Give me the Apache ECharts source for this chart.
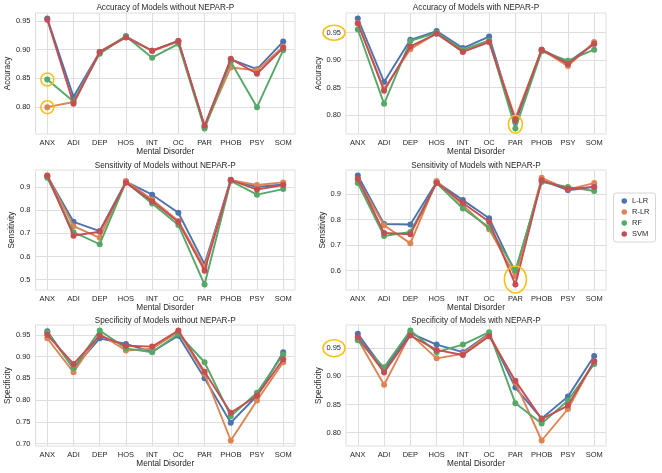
<!DOCTYPE html>
<html><head><meta charset="utf-8">
<script src="https://cdn.jsdelivr.net/npm/echarts@6/dist/echarts.min.js"></script>
<style>html,body{margin:0;padding:0;background:#fff}#c{width:662px;height:473px}</style>
</head><body><div id="c"></div>
<script>
const categories = ['ANX','ADI','DEP','HOS','INT','OC','PAR','PHOB','PSY','SOM'];
const models = ['L-LR','R-LR','RF','SVM'];
const colors = ['#4C72B0','#DD8452','#55A868','#C44E52'];

const accWithout_LLR = [0.954,0.818,0.896,0.923,0.898,0.915,0.766,0.883,0.866,0.914];
const accWithout_RLR = [0.800,0.809,0.896,0.922,0.898,0.914,0.766,0.869,0.864,0.905];
const accWithout_RF  = [0.848,0.810,0.893,0.923,0.886,0.910,0.763,0.879,0.800,0.899];
const accWithout_SVM = [0.952,0.806,0.896,0.921,0.898,0.915,0.768,0.884,0.858,0.903];

const accWith_LLR = [0.976,0.860,0.937,0.953,0.922,0.943,0.786,0.919,0.896,0.930];
const accWith_RLR = [0.968,0.847,0.920,0.949,0.916,0.933,0.794,0.919,0.889,0.933];
const accWith_RF  = [0.956,0.820,0.935,0.950,0.919,0.936,0.775,0.916,0.899,0.919];
const accWith_SVM = [0.967,0.844,0.925,0.948,0.915,0.933,0.790,0.919,0.893,0.930];

const senWithout_LLR = [0.948,0.750,0.710,0.923,0.867,0.789,0.567,0.931,0.900,0.911];
const senWithout_RLR = [0.947,0.731,0.681,0.926,0.846,0.753,0.554,0.930,0.909,0.920];
const senWithout_RF  = [0.940,0.705,0.653,0.921,0.829,0.736,0.479,0.926,0.867,0.891];
const senWithout_SVM = [0.950,0.690,0.707,0.919,0.839,0.749,0.539,0.930,0.889,0.909];

const senWith_LLR = [0.974,0.783,0.781,0.948,0.877,0.806,0.591,0.955,0.916,0.929];
const senWith_RLR = [0.957,0.778,0.707,0.952,0.857,0.762,0.578,0.965,0.919,0.944];
const senWith_RF  = [0.944,0.736,0.752,0.944,0.844,0.770,0.601,0.948,0.929,0.913];
const senWith_SVM = [0.961,0.748,0.743,0.945,0.866,0.792,0.545,0.955,0.921,0.929];

const speWithout_LLR = [0.958,0.873,0.942,0.929,0.911,0.948,0.850,0.748,0.810,0.910];
const speWithout_RLR = [0.942,0.864,0.952,0.914,0.918,0.957,0.860,0.707,0.799,0.887];
const speWithout_RF  = [0.956,0.873,0.960,0.919,0.910,0.952,0.887,0.763,0.817,0.905];
const speWithout_SVM = [0.950,0.883,0.948,0.925,0.923,0.960,0.865,0.771,0.810,0.894];

const speWith_LLR = [0.9756,0.912,0.977,0.9565,0.943,0.976,0.880,0.825,0.864,0.936];
const speWith_RLR = [0.966,0.885,0.975,0.932,0.940,0.975,0.889,0.786,0.842,0.927];
const speWith_RF  = [0.964,0.916,0.9815,0.943,0.9565,0.9786,0.852,0.816,0.857,0.922];
const speWith_SVM = [0.970,0.907,0.9726,0.947,0.938,0.9714,0.892,0.824,0.848,0.927];

const titles = ['Accuracy of Models without NEPAR-P','Accuracy of Models with NEPAR-P',
  'Sensitivity of Models without NEPAR-P','Sensitivity of Models with NEPAR-P',
  'Specificity of Models without NEPAR-P','Specificity of Models with NEPAR-P'];
const yNames = ['Accuracy','Accuracy','Sensitivity','Sensitivity','Specificity','Specificity'];
const yTicks0 = [0.80,0.85,0.90,0.95];
const yTicks1 = [0.80,0.85,0.90,0.95];
const yTicks2 = [0.5,0.6,0.7,0.8,0.9];
const yTicks3 = [0.6,0.7,0.8,0.9];
const yTicks4 = [0.70,0.75,0.80,0.85,0.90,0.95];
const yTicks5 = [0.80,0.85,0.90,0.95];

const panels = [
  {series:[accWithout_LLR,accWithout_RLR,accWithout_RF,accWithout_SVM], ticks:yTicks0, dec:2},
  {series:[accWith_LLR,accWith_RLR,accWith_RF,accWith_SVM], ticks:yTicks1, dec:2},
  {series:[senWithout_LLR,senWithout_RLR,senWithout_RF,senWithout_SVM], ticks:yTicks2, dec:1},
  {series:[senWith_LLR,senWith_RLR,senWith_RF,senWith_SVM], ticks:yTicks3, dec:1},
  {series:[speWithout_LLR,speWithout_RLR,speWithout_RF,speWithout_SVM], ticks:yTicks4, dec:2},
  {series:[speWith_LLR,speWith_RLR,speWith_RF,speWith_SVM], ticks:yTicks5, dec:2}
];

const gridPos = [
  {left:35.5, top:13, width:259.5, height:121},
  {left:346, top:13, width:260, height:121},
  {left:35.5, top:170, width:259.5, height:120},
  {left:346, top:170, width:260, height:120},
  {left:35.5, top:325, width:259.5, height:121},
  {left:346, top:325, width:260, height:121}
];
const titleTops = [4, 4, 161.5, 161.5, 317, 317];
const yNameGaps = [24,23,20,19,24,23];

const FONT = '"Liberation Sans", Arial, sans-serif';
const TXT = '#262626';
const GRIDC = '#dedede';

const grid=[], xAxis=[], yAxis=[], series=[], title=[];
panels.forEach((p,i)=>{
  const all = [].concat(...p.series);
  const mn = Math.min(...all), mx = Math.max(...all), r = mx-mn;
  const g = gridPos[i];
  grid.push(Object.assign({show:true, borderColor:GRIDC, borderWidth:1, containLabel:false}, g));
  title.push({text:titles[i], left:g.left+g.width/2, top:titleTops[i], textAlign:'center', padding:0,
    textStyle:{fontFamily:FONT, fontSize:8.2, fontWeight:'normal', color:TXT}});
  xAxis.push({type:'value', gridIndex:i, min:-0.45, max:9.45,
    name:'Mental Disorder', nameLocation:'middle', nameGap:14,
    nameTextStyle:{fontFamily:FONT, fontSize:8.2, color:TXT},
    axisLine:{show:false}, axisTick:{show:false, customValues:[0,1,2,3,4,5,6,7,8,9]},
    axisLabel:{customValues:[0,1,2,3,4,5,6,7,8,9], formatter:v=>categories[Math.round(v)],
      fontFamily:FONT, fontSize:7.5, color:TXT, margin:5},
    splitLine:{show:true, lineStyle:{color:GRIDC, width:1}}});
  yAxis.push({type:'value', gridIndex:i, min:mn-0.05*r, max:mx+0.05*r,
    name:yNames[i], nameLocation:'middle', nameGap:yNameGaps[i],
    nameTextStyle:{fontFamily:FONT, fontSize:8.2, color:TXT},
    axisLine:{show:false}, axisTick:{show:false, customValues:p.ticks},
    axisLabel:{customValues:p.ticks, formatter:v=>v.toFixed(p.dec),
      fontFamily:FONT, fontSize:7.5, color:TXT, margin:5},
    splitLine:{show:true, lineStyle:{color:GRIDC, width:1}}});
  p.series.forEach((arr,k)=>{
    series.push({type:'line', name:models[k], xAxisIndex:i, yAxisIndex:i,
      data:arr.map((v,j)=>[j,v]), symbol:'circle', symbolSize:6,
      lineStyle:{width:1.9, color:colors[k]}, itemStyle:{color:colors[k]},
      emphasis:{disabled:true}, animation:false, z:2+k});
  });
});

const chart = echarts.init(document.getElementById('c'), null, {renderer:'canvas'});
chart.setOption({
  backgroundColor:'#ffffff', animation:false, color:colors,
  title, grid, xAxis, yAxis, series,
  legend:{data:models, orient:'vertical', left:613.5, top:193, icon:'circle',
    itemWidth:5.5, itemHeight:5.5, itemGap:3, itemTextGap:9,
    padding:[4,6,4,8], borderColor:'#d6d6d6', borderWidth:1, borderRadius:3,
    backgroundColor:'#ffffff',
    textStyle:{fontFamily:FONT, fontSize:7.5, color:TXT}}
});

// Highlight annotations (yellow ellipses) placed via the axes' scales
const GOLD = '#F7C215';
function px(gi, x, y){ return chart.convertToPixel({gridIndex:gi}, [x,y]); }
const ann = [];
function ell(c, rx, ry){ ann.push({type:'ellipse', silent:true, z:100,
  shape:{cx:c[0], cy:c[1], rx:rx, ry:ry}, style:{fill:'none', stroke:GOLD, lineWidth:1.6}}); }
ell(px(0,0,accWithout_RF[0]), 6.5, 6.5);
ell(px(0,0,accWithout_RLR[0]), 6.5, 6.5);
{ const c = px(1,0,0.95); ell([gridPos[1].left-12, c[1]], 11, 7.5); }
{ const c = px(1,6,(accWith_RF[6]+accWith_RLR[6])/2); ell([c[0], c[1]+1], 7, 9); }
{ const c = px(3,6,(senWith_RF[6]+senWith_SVM[6])/2); ell([c[0], c[1]+2], 11, 13.5); }
{ const c = px(5,0,0.95); ell([gridPos[5].left-12, c[1]], 11, 8.5); }
chart.setOption({graphic:ann});
</script></body></html>
